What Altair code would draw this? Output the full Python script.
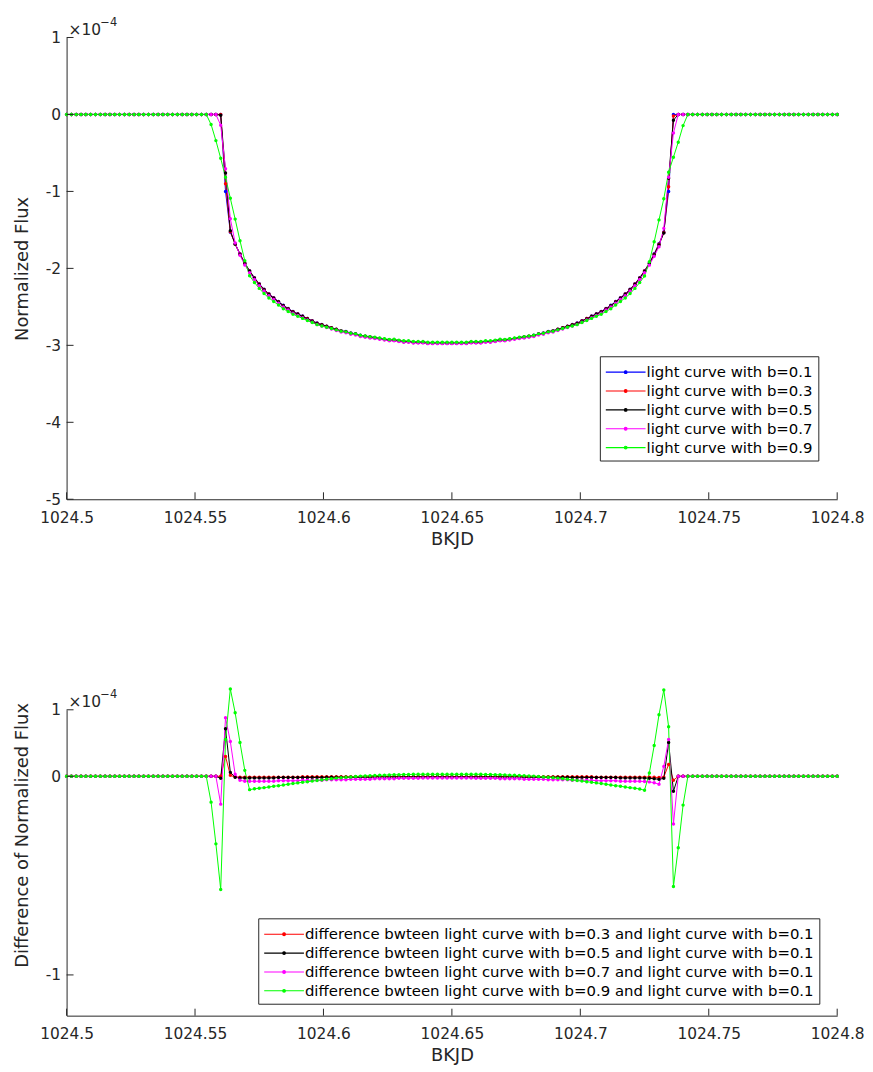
import altair as alt
import pandas as pd

# ---------------- sampling grid (BKJD) ----------------
T0 = 1024.5          # first sample
DT = 0.001875        # cadence read from the dot spacing
N_PTS = 161
IN0 = 29             # index of first value in the in-transit arrays below

# ---------------- values in units of 1e-4 ----------------
# light curve with b=0.1 (samples 29..129)
base_b01 = [
    0, 0, 0, 0, -1.00, -1.53, -1.68, -1.81, -1.93, -2.03,
    -2.12, -2.20, -2.27, -2.33, -2.38, -2.43, -2.48, -2.52, -2.56, -2.59,
    -2.62, -2.65, -2.68, -2.71, -2.73, -2.75, -2.77, -2.79, -2.81, -2.82,
    -2.84, -2.85, -2.87, -2.88, -2.89, -2.90, -2.91, -2.92, -2.93, -2.93,
    -2.94, -2.95, -2.95, -2.96, -2.96, -2.96, -2.97, -2.97, -2.97, -2.97,
    -2.97, -2.97, -2.97, -2.97, -2.97, -2.96, -2.96, -2.96, -2.95, -2.95,
    -2.94, -2.93, -2.93, -2.92, -2.91, -2.90, -2.89, -2.88, -2.87, -2.85,
    -2.84, -2.82, -2.81, -2.79, -2.77, -2.75, -2.73, -2.71, -2.68, -2.65,
    -2.62, -2.59, -2.56, -2.52, -2.48, -2.43, -2.38, -2.33, -2.27, -2.20,
    -2.12, -2.03, -1.93, -1.81, -1.68, -1.53, -1.00, 0, 0, 0,
    0,
]
# difference b=0.3 minus b=0.1
diff_b03 = [
    0, 0, 0, 0, 0.10, 0.005, -0.004, -0.004, -0.004, -0.004,
    -0.004, -0.004, -0.004, -0.004, -0.004, -0.004, -0.004, -0.004, -0.004, -0.004,
    -0.002, -0.002, -0.002, -0.002, -0.002, -0.002, -0.002, -0.002, -0.002, -0.002,
    -0.002, -0.002, -0.002, -0.002, -0.002, -0.001, -0.001, -0.001, -0.001, -0.001,
    -0.001, -0.001, -0.001, -0.001, -0.001, -0.001, -0.001, -0.001, -0.001, -0.001,
    -0.001, -0.001, -0.001, -0.001, -0.001, -0.001, -0.001, -0.001, -0.001, -0.001,
    -0.001, -0.001, -0.001, -0.001, -0.001, -0.001, -0.002, -0.002, -0.002, -0.002,
    -0.002, -0.002, -0.002, -0.002, -0.002, -0.002, -0.002, -0.002, -0.002, -0.002,
    -0.002, -0.004, -0.004, -0.004, -0.004, -0.004, -0.004, -0.004, -0.004, -0.004,
    -0.004, -0.004, -0.004, -0.005, -0.006, -0.004, 0.06, -0.02, 0, 0,
    0,
]
# difference b=0.5 minus b=0.1
diff_b05 = [
    0, 0, 0, -0.01, 0.24, 0.02, -0.005, -0.008, -0.008, -0.008,
    -0.008, -0.008, -0.008, -0.008, -0.008, -0.006, -0.006, -0.006, -0.006, -0.006,
    -0.006, -0.006, -0.006, -0.006, -0.006, -0.005, -0.005, -0.005, -0.005, -0.005,
    -0.005, -0.005, -0.005, -0.005, -0.005, -0.003, -0.003, -0.003, -0.003, -0.003,
    -0.003, -0.003, -0.003, -0.003, -0.003, -0.003, -0.003, -0.003, -0.003, -0.003,
    -0.003, -0.003, -0.003, -0.003, -0.003, -0.003, -0.003, -0.003, -0.003, -0.003,
    -0.003, -0.003, -0.003, -0.003, -0.003, -0.003, -0.005, -0.005, -0.005, -0.005,
    -0.005, -0.005, -0.005, -0.005, -0.005, -0.005, -0.006, -0.006, -0.006, -0.006,
    -0.006, -0.006, -0.006, -0.006, -0.006, -0.006, -0.008, -0.008, -0.008, -0.008,
    -0.008, -0.009, -0.010, -0.012, -0.015, -0.010, 0.17, -0.075, 0, 0,
    0,
]
# difference b=0.7 minus b=0.1
diff_b07 = [
    0, 0, 0, -0.14, 0.295, 0.175, 0.01, -0.02, -0.025, -0.025,
    -0.025, -0.025, -0.025, -0.025, -0.025, -0.022, -0.022, -0.022, -0.022, -0.022,
    -0.020, -0.020, -0.020, -0.020, -0.020, -0.017, -0.017, -0.017, -0.017, -0.017,
    -0.015, -0.015, -0.015, -0.015, -0.015, -0.012, -0.012, -0.012, -0.012, -0.012,
    -0.010, -0.010, -0.010, -0.010, -0.010, -0.008, -0.008, -0.008, -0.008, -0.008,
    -0.008, -0.008, -0.008, -0.008, -0.008, -0.008, -0.010, -0.010, -0.010, -0.010,
    -0.010, -0.012, -0.012, -0.012, -0.012, -0.012, -0.015, -0.015, -0.015, -0.015,
    -0.015, -0.017, -0.017, -0.017, -0.017, -0.017, -0.020, -0.020, -0.020, -0.020,
    -0.020, -0.022, -0.022, -0.022, -0.022, -0.022, -0.025, -0.025, -0.025, -0.025,
    -0.025, -0.026, -0.028, -0.032, -0.040, 0.05, 0.185, -0.24, 0, 0,
    0,
]
# difference b=0.9 minus b=0.1
diff_b09 = [
    0, -0.13, -0.34, -0.57, 0.185, 0.44, 0.32, 0.17, 0.03, -0.067,
    -0.063, -0.060, -0.057, -0.054, -0.050, -0.047, -0.044, -0.040, -0.036, -0.033,
    -0.030, -0.027, -0.024, -0.021, -0.018, -0.015, -0.012, -0.009, -0.007, -0.005,
    -0.003, -0.001, 0.001, 0.002, 0.003, 0.004, 0.005, 0.006, 0.007, 0.008,
    0.008, 0.009, 0.009, 0.010, 0.010, 0.010, 0.010, 0.010, 0.010, 0.010,
    0.010, 0.010, 0.010, 0.010, 0.010, 0.010, 0.010, 0.010, 0.009, 0.009,
    0.008, 0.008, 0.007, 0.006, 0.005, 0.004, 0.003, 0.002, 0.001, -0.001,
    -0.003, -0.005, -0.007, -0.009, -0.012, -0.015, -0.018, -0.021, -0.024, -0.027,
    -0.030, -0.033, -0.036, -0.040, -0.044, -0.047, -0.050, -0.054, -0.057, -0.060,
    -0.064, -0.070, 0.017, 0.155, 0.31, 0.435, 0.25, -0.555, -0.36, -0.145,
    0,
]

TOP_LABELS = ["light curve with b=0.1", "light curve with b=0.3", "light curve with b=0.5",
              "light curve with b=0.7", "light curve with b=0.9"]
TOP_COLORS = ["#0000FF", "#FF0000", "#000000", "#FF00FF", "#00FF00"]
BOT_LABELS = ["difference bwteen light curve with b=0.3 and light curve with b=0.1",
              "difference bwteen light curve with b=0.5 and light curve with b=0.1",
              "difference bwteen light curve with b=0.7 and light curve with b=0.1",
              "difference bwteen light curve with b=0.9 and light curve with b=0.1"]
BOT_COLORS = ["#FF0000", "#000000", "#FF00FF", "#00FF00"]

X_DOMAIN = [1024.5, 1024.8]
X_TICKS = [1024.5, 1024.55, 1024.6, 1024.65, 1024.7, 1024.75, 1024.8]
Y1_DOMAIN = [-5, 1]
Y1_TICKS = [-5, -4, -3, -2, -1, 0, 1]
Y2_DOMAIN = [-1.205, 0.335]
Y2_TICKS = [-1, 0, 0.335]

# ---------------- build tables ----------------
def full(seg):
    return [0.0] * IN0 + [float(v) for v in seg] + [0.0] * (N_PTS - IN0 - len(seg))

times = [round(T0 + DT * i, 6) for i in range(N_PTS)]
base = full(base_b01)
diffs = [full(diff_b03), full(diff_b05), full(diff_b07), full(diff_b09)]

top_rows = []
for lab, series in zip(TOP_LABELS, [base] + [[b + d for b, d in zip(base, df_)] for df_ in diffs]):
    for t, v in zip(times, series):
        top_rows.append({"t": t, "v": v, "series": lab})
top_df = pd.DataFrame(top_rows)

bot_rows = []
for lab, series in zip(BOT_LABELS, diffs):
    for t, v in zip(times, series):
        bot_rows.append({"t": t, "v": v, "series": lab})
bot_df = pd.DataFrame(bot_rows)

# ---------------- style ----------------
W = 776
H1 = 465
H2 = 308
AX = "#262626"
FONT = "DejaVu Sans"
TICK = 7
# legend sample: 40px line with a dot in its middle (unit = 10px at size 400)
SYM = "M-1,0H3M0.86,0A0.14,0.14,0,1,1,1.14,0A0.14,0.14,0,1,1,0.86,0"


def panel(df, labels, colors, ydom, yticks, ylabel_expr, height, ytitle, lx, ly, title_y=None):
    xs = alt.Scale(domain=X_DOMAIN, nice=False, zero=False)
    ys = alt.Scale(domain=ydom, nice=False, zero=False)
    x = alt.X("t:Q", scale=xs,
              axis=alt.Axis(values=X_TICKS, labelExpr="'' + datum.value", title="BKJD",
                            ticks=False, grid=False, domainColor=AX, domainWidth=1,
                            labelFont=FONT, labelFontSize=15.5, labelColor=AX, labelPadding=11,
                            titleFont=FONT, titleFontSize=18, titleFontWeight="normal",
                            titleColor=AX, titlePadding=5, labelFlush=False))
    yaxis_kw = dict(values=yticks, labelExpr=ylabel_expr, title=ytitle,
                    ticks=False, grid=False, domainColor=AX, domainWidth=1,
                    labelFont=FONT, labelFontSize=15.5, labelColor=AX, labelPadding=6,
                    titleFont=FONT, titleFontSize=18, titleFontWeight="normal",
                    titleColor=AX, titlePadding=4, minExtent=31, maxExtent=31,
                    labelFlush=False)
    if title_y is not None:
        yaxis_kw["titleY"] = title_y
    y = alt.Y("v:Q", scale=ys, axis=alt.Axis(**yaxis_kw))
    lines = alt.Chart(df).mark_line(
        strokeWidth=1, clip=False,
        point=alt.OverlayMarkDef(filled=True, size=12, clip=False),
    ).encode(
        x=x, y=y,
        color=alt.Color("series:N", sort=labels,
                        scale=alt.Scale(domain=labels, range=colors),
                        legend=alt.Legend(title=None, orient="none", legendX=lx, legendY=ly,
                                          direction="vertical", strokeColor=AX, fillColor="white",
                                          padding=5, rowPadding=0, labelFont=FONT,
                                          labelFontSize=15, labelColor="black", labelOffset=20,
                                          symbolType=SYM, symbolSize=400, symbolStrokeWidth=1.1,
                                          labelLimit=1000)),
    )
    yt = alt.Chart(pd.DataFrame({"v": yticks})).mark_rule(color=AX, strokeWidth=1).encode(
        y=y, x=alt.value(0), x2=alt.value(TICK))
    xt = alt.Chart(pd.DataFrame({"t": X_TICKS})).mark_rule(color=AX, strokeWidth=1).encode(
        x=x, y=alt.value(height), y2=alt.value(height - TICK))
    e1 = alt.Chart(pd.DataFrame({"s": ["\u00d710"]})).mark_text(
        align="left", baseline="alphabetic", font=FONT, fontSize=15.5, color=AX
    ).encode(x=alt.value(2), y=alt.value(-2.5), text="s:N")
    e2 = alt.Chart(pd.DataFrame({"s": ["\u22124"]})).mark_text(
        align="left", baseline="alphabetic", font=FONT, fontSize=11.5, color=AX
    ).encode(x=alt.value(34), y=alt.value(-11.5), text="s:N")
    return alt.layer(lines, yt, xt, e1, e2).properties(width=W, height=height)


top = panel(top_df, TOP_LABELS, TOP_COLORS, Y1_DOMAIN, Y1_TICKS, "'' + datum.value",
            H1, "Normalized Flux", 537, 321)
bot = panel(bot_df, BOT_LABELS, BOT_COLORS, Y2_DOMAIN, Y2_TICKS,
            "datum.value > 0.3 ? '1' : '' + datum.value",
            H2, "Difference of Normalized Flux", 193, 210, title_y=126)

chart = alt.vconcat(top, bot, spacing=138).resolve_scale(color="independent").resolve_legend(
    color="independent"
).properties(
    padding={"left": 5, "top": 5, "right": 0, "bottom": -4}
).configure(background="white").configure_view(stroke="transparent")

chart.save("out.html", embed_options={"renderer": "svg", "actions": False})
